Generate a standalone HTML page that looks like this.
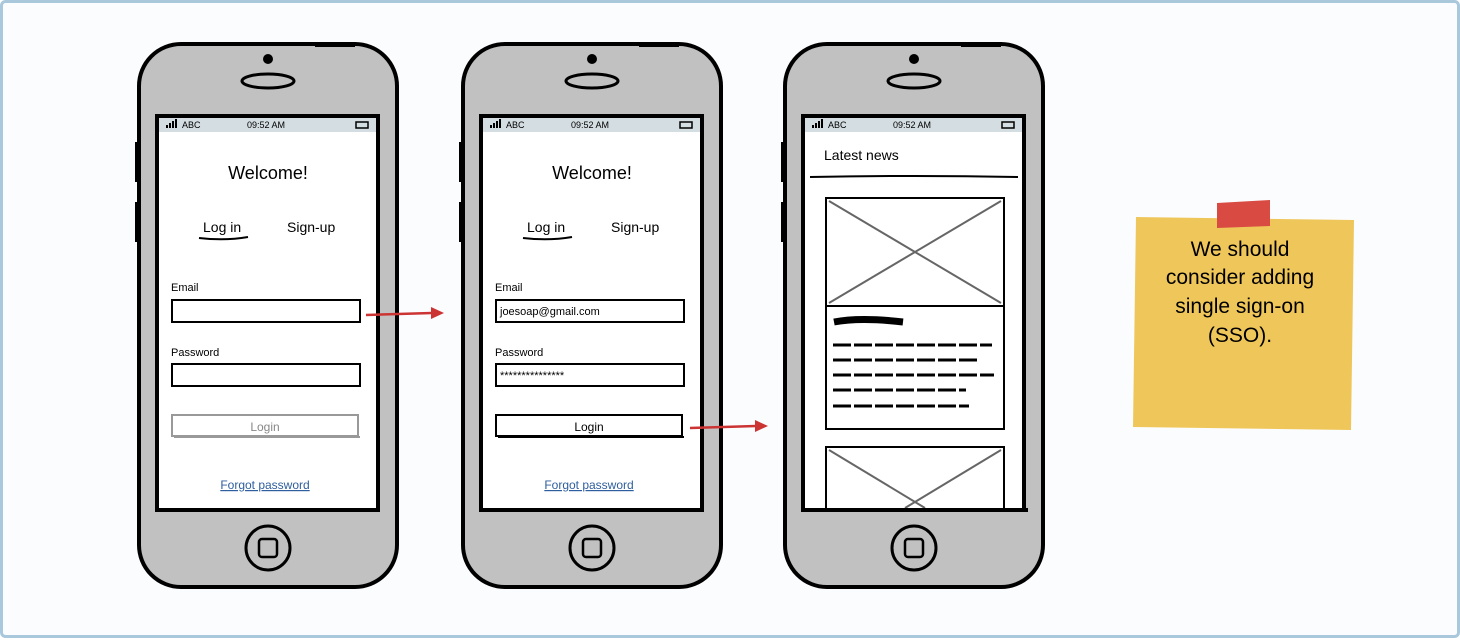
<!DOCTYPE html>
<html><head><style>
html,body{margin:0;padding:0}
body{width:1460px;height:638px;overflow:hidden;background:#fff;font-family:"Liberation Sans",sans-serif}
</style></head><body>
<svg width="1460" height="638" xmlns="http://www.w3.org/2000/svg" font-family="Liberation Sans, sans-serif">
<rect x="1.5" y="1.5" width="1457" height="635" rx="4" fill="#fbfcfe" stroke="#a9c8dc" stroke-width="3"/>
<defs>
<g id="phone">
  <rect x="2" y="2" width="258" height="543" rx="42" fill="#c1c1c1" stroke="#000" stroke-width="4"/>
  <rect x="178" y="0" width="40" height="5" fill="#000"/>
  <rect x="-2" y="100" width="4" height="40" fill="#000"/>
  <rect x="-2" y="160" width="4" height="40" fill="#000"/>
  <circle cx="131" cy="17" r="5" fill="#000"/>
  <ellipse cx="131" cy="39" rx="26" ry="7" fill="none" stroke="#000" stroke-width="3"/>
  <rect x="20" y="74" width="221" height="394" fill="#fff" stroke="#000" stroke-width="4"/>
  <rect x="22" y="76" width="217" height="14" fill="#d4dde2"/>
  <text x="45" y="86" font-size="9" fill="#000">ABC</text>
  <text x="110" y="86" font-size="9" fill="#000">09:52 AM</text>
  <rect x="29" y="83" width="2" height="3" fill="#000"/><rect x="32" y="81" width="2" height="5" fill="#000"/><rect x="35" y="79" width="2" height="7" fill="#000"/><rect x="38" y="77" width="2" height="9" fill="#000"/>
  <rect x="219" y="80" width="12" height="6" fill="none" stroke="#000" stroke-width="1.5"/>
  <circle cx="131" cy="506" r="22" fill="none" stroke="#000" stroke-width="3"/>
  <rect x="122" y="497" width="18" height="18" rx="3" fill="none" stroke="#000" stroke-width="2.5"/>
</g>
</defs>
<use href="#phone" x="137" y="42"/>
<use href="#phone" x="461" y="42"/>
<use href="#phone" x="783" y="42"/>

<!-- screen 1 -->
<g font-size="13">
<text x="268" y="179" font-size="18" text-anchor="middle">Welcome!</text>
<text x="203" y="232" font-size="14">Log in</text>
<path d="M199 238 Q225 241 248 237" stroke="#000" stroke-width="2" fill="none"/>
<text x="287" y="232" font-size="14">Sign-up</text>
<text x="171" y="291" font-size="11">Email</text>
<rect x="172" y="300" width="188" height="22" fill="#fff" stroke="#000" stroke-width="2"/>
<text x="171" y="356" font-size="11">Password</text>
<rect x="172" y="364" width="188" height="22" fill="#fff" stroke="#000" stroke-width="2"/>
<rect x="172" y="415" width="186" height="21" fill="#fff" stroke="#999" stroke-width="2"/>
<line x1="174" y1="437" x2="360" y2="437" stroke="#999" stroke-width="2"/>
<text x="265" y="431" font-size="12" text-anchor="middle" fill="#888">Login</text>
<text x="265" y="489" font-size="12" text-anchor="middle" fill="#2e5e9e" text-decoration="underline">Forgot password</text>
</g>
<!-- screen 2 -->
<g>
<text x="592" y="179" font-size="18" text-anchor="middle">Welcome!</text>
<text x="527" y="232" font-size="14">Log in</text>
<path d="M523 238 Q549 241 572 237" stroke="#000" stroke-width="2" fill="none"/>
<text x="611" y="232" font-size="14">Sign-up</text>
<text x="495" y="291" font-size="11">Email</text>
<rect x="496" y="300" width="188" height="22" fill="#fff" stroke="#000" stroke-width="2"/>
<text x="500" y="315" font-size="11">joesoap@gmail.com</text>
<text x="495" y="356" font-size="11">Password</text>
<rect x="496" y="364" width="188" height="22" fill="#fff" stroke="#000" stroke-width="2"/>
<text x="500" y="379" font-size="11">***************</text>
<rect x="496" y="415" width="186" height="21" fill="#fff" stroke="#000" stroke-width="2"/>
<line x1="498" y1="437" x2="684" y2="437" stroke="#000" stroke-width="2"/>
<text x="589" y="431" font-size="12" text-anchor="middle">Login</text>
<text x="589" y="489" font-size="12" text-anchor="middle" fill="#2e5e9e" text-decoration="underline">Forgot password</text>
</g>
<!-- screen 3 -->
<g>
<text x="824" y="160" font-size="14">Latest news</text>
<path d="M810 177 Q915 175 1018 177" stroke="#000" stroke-width="2" fill="none"/>
<rect x="826" y="198" width="178" height="108" fill="#fff" stroke="#000" stroke-width="2"/>
<line x1="829" y1="201" x2="1001" y2="303" stroke="#666" stroke-width="2"/>
<line x1="1001" y1="201" x2="829" y2="303" stroke="#666" stroke-width="2"/>
<rect x="826" y="306" width="178" height="123" fill="#fff" stroke="#000" stroke-width="2"/>
<path d="M834 322 Q860 317 903 322" stroke="#000" stroke-width="7" fill="none"/>
<g stroke="#000" stroke-width="3" stroke-dasharray="18 3">
<line x1="833" y1="345" x2="992" y2="345"/>
<line x1="833" y1="360" x2="980" y2="360"/>
<line x1="833" y1="375" x2="994" y2="375"/>
<line x1="833" y1="390" x2="966" y2="390"/>
<line x1="833" y1="406" x2="969" y2="406"/>
</g>
<rect x="826" y="447" width="178" height="62" fill="#fff" stroke="#000" stroke-width="2"/>
<line x1="829" y1="450" x2="925" y2="508" stroke="#666" stroke-width="2"/>
<line x1="1001" y1="450" x2="905" y2="508" stroke="#666" stroke-width="2"/>
<rect x="803" y="508" width="225" height="4" fill="#000"/>
</g>
<!-- arrows -->
<line x1="366" y1="315" x2="432" y2="313" stroke="#c33" stroke-width="2.5"/>
<polygon points="444,313 431,307 431,319" fill="#c33"/>
<line x1="690" y1="428" x2="756" y2="426" stroke="#c33" stroke-width="2.5"/>
<polygon points="768,426 755,420 755,432" fill="#c33"/>
<!-- sticky -->
<polygon points="1136,217 1354,220 1351,430 1133,427" fill="#efc65a"/>
<polygon points="1217,203 1270,200 1270,226 1217,228" fill="#d94a42"/>
<g font-size="21" text-anchor="middle" fill="#000">
<text x="1240" y="256">We should</text>
<text x="1240" y="284">consider adding</text>
<text x="1240" y="313">single sign-on</text>
<text x="1240" y="342">(SSO).</text>
</g>
</svg>
</body></html>
